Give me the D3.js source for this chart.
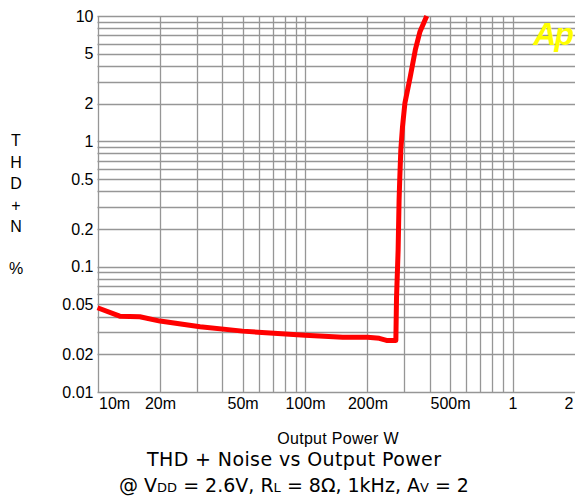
<!DOCTYPE html>
<html><head><meta charset="utf-8">
<script src="https://cdn.jsdelivr.net/npm/d3@7"></script>
<style>body{margin:0;background:#fff}svg{display:block}</style>
</head><body>
<script>
// Data
const power = [0.01,0.0128,0.0160,0.020,0.0312,0.050,0.0678,0.100,0.152,0.200,0.228,0.247,0.274,0.276,0.281,0.284,0.286,0.2895,0.295,0.303,0.3215,0.340,0.358,0.386];
const thd   = [0.047,0.0403,0.0398,0.0368,0.0331,0.0306,0.0295,0.0284,0.0274,0.0273,0.0268,0.0258,0.0258,0.0561,0.136,0.340,0.491,0.853,1.31,2.02,3.28,5.36,7.49,10];
const xTickVals = [0.01,0.02,0.05,0.1,0.2,0.5,1,2];
const xTickLabels = ["10m","20m","50m","100m","200m","500m","1","2"];
const yTickVals = [10,5,2,1,0.5,0.2,0.1,0.05,0.02,0.01];
const yTickLabels = ["10","5","2","1","0.5","0.2","0.1","0.05","0.02","0.01"];
const xGrid = [0.01,0.02,0.03,0.04,0.05,0.06,0.07,0.08,0.09,0.1,0.2,0.3,0.4,0.5,0.6,0.7,0.8,0.9,1];
const yGrid = [0.01,0.02,0.03,0.04,0.05,0.06,0.07,0.08,0.09,0.1,0.2,0.3,0.4,0.5,0.6,0.7,0.8,0.9,1,2,3,4,5,6,7,8,9,10];
const yLetters = ["T","H","D","+","N"];

const W=575,H=497;
const svg=d3.select("body").append("svg").attr("width",W).attr("height",H);
const x=d3.scaleLog().domain([0.01,2]).range([97.5,575]);
const y=d3.scaleLog().domain([0.01,10]).range([392,16]);
const font="'Liberation Sans', Arial, sans-serif";

const g=svg.append("g");
g.selectAll("line.h").data(yGrid).join("line")
  .attr("x1",x(0.01)).attr("x2",x(2)).attr("y1",d=>Math.round(y(d))+0.5).attr("y2",d=>Math.round(y(d))+0.5)
  .attr("stroke","#969696").attr("stroke-width",1.3);
g.selectAll("line.v").data(xGrid).join("line")
  .attr("y1",y(0.01)).attr("y2",y(10)).attr("x1",d=>Math.round(x(d))+0.5).attr("x2",d=>Math.round(x(d))+0.5)
  .attr("stroke","#969696").attr("stroke-width",1.3);

// Axes labels via d3 axes
const ax=svg.append("g").attr("transform",`translate(${x(0.01)},0)`)
  .call(d3.axisLeft(y).tickValues(yTickVals).tickFormat((d,i)=>yTickLabels[i]).tickSize(0).tickPadding(4));
ax.select(".domain").remove();
ax.selectAll("text").attr("font-family",font).attr("font-size",16).attr("fill","#000");

const bx=svg.append("g").attr("transform",`translate(0,${y(0.01)})`)
  .call(d3.axisBottom(x).tickValues(xTickVals).tickFormat((d,i)=>xTickLabels[i]).tickSize(0).tickPadding(6));
bx.select(".domain").remove();
bx.selectAll("text").attr("font-family",font).attr("font-size",16).attr("fill","#000")
  .attr("text-anchor",(d,i)=>i===0?"start":(i===xTickVals.length-1?"end":"middle"))
  .attr("dx",(d,i)=>i===0?"1":(i===xTickVals.length-1?"-2":"0"));

// curve
const line=d3.line().x((d,i)=>x(power[i])).y((d,i)=>y(thd[i]));
svg.append("path").datum(power).attr("d",line).attr("fill","none")
  .attr("stroke","#ff0000").attr("stroke-width",5).attr("stroke-linejoin","round").attr("stroke-linecap","butt");

// Y title letters
svg.selectAll("text.yl").data(yLetters).join("text")
  .attr("x",16).attr("y",(d,i)=>146+i*21.5).attr("text-anchor","middle")
  .attr("font-family",font).attr("font-size",16).text(d=>d);
svg.append("text").attr("x",16).attr("y",274).attr("text-anchor","middle")
  .attr("font-family",font).attr("font-size",16).text("%");

// Ap logo
svg.append("text").attr("x",572).attr("y",45).attr("text-anchor","end")
  .attr("font-family",font).attr("font-size",32).attr("font-weight","bold").attr("font-style","italic")
  .attr("fill","#ffff00").attr("letter-spacing",-2).text("Ap");

// X title
svg.append("text").attr("x",338).attr("y",444).attr("text-anchor","middle")
  .attr("font-family",font).attr("font-size",16).attr("letter-spacing",0.3).text("Output Power W");

svg.append("text").attr("x",294).attr("y",466).attr("text-anchor","middle")
  .attr("font-family","'DejaVu Sans', sans-serif").attr("font-size",19).attr("textLength",294).text("THD + Noise vs Output Power");

const sub=svg.append("text").attr("x",294).attr("y",492).attr("text-anchor","middle")
  .attr("font-family","'DejaVu Sans', sans-serif").attr("font-size",19);
const parts=[["@ V",0],["DD",1],[" = 2.6V, R",0],["L",1],[" = 8Ω, 1kHz, A",0],["V",1],[" = 2",0]];
parts.forEach(p=>{sub.append("tspan").attr("font-size",p[1]?13:19).text(p[0]);});
</script>
</body></html>
